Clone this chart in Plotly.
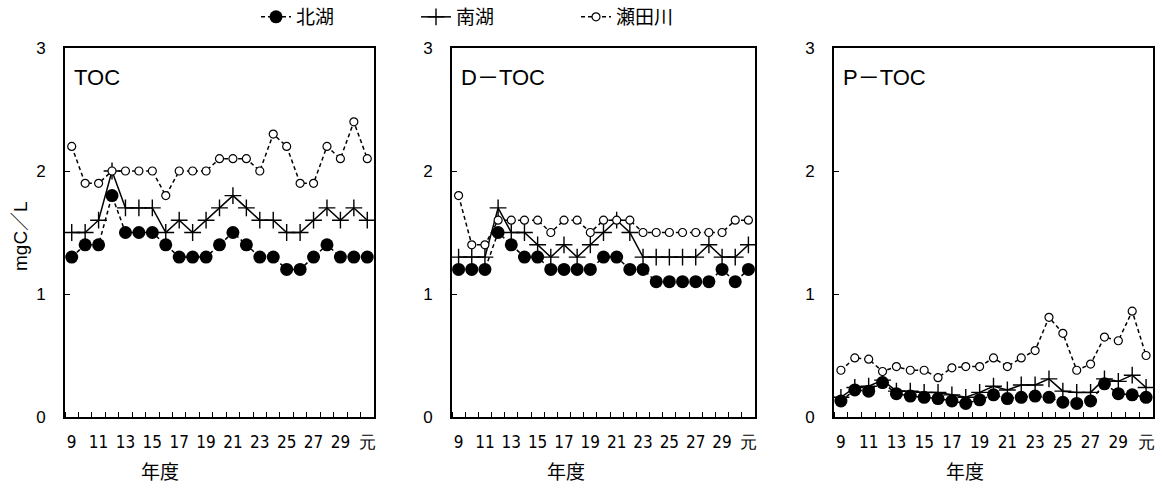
import plotly.graph_objects as go

# ---- data ----
years = ["9", "10", "11", "12", "13", "14", "15", "16", "17", "18", "19", "20",
         "21", "22", "23", "24", "25", "26", "27", "28", "29", "30", "元"]

toc_north = [1.3, 1.4, 1.4, 1.8, 1.5, 1.5, 1.5, 1.4, 1.3, 1.3, 1.3, 1.4, 1.5, 1.4, 1.3, 1.3, 1.2, 1.2, 1.3, 1.4, 1.3, 1.3, 1.3]
toc_south = [1.5, 1.5, 1.6, 2.0, 1.7, 1.7, 1.7, 1.5, 1.6, 1.5, 1.6, 1.7, 1.8, 1.7, 1.6, 1.6, 1.5, 1.5, 1.6, 1.7, 1.6, 1.7, 1.6]
toc_seta = [2.2, 1.9, 1.9, 2.0, 2.0, 2.0, 2.0, 1.8, 2.0, 2.0, 2.0, 2.1, 2.1, 2.1, 2.0, 2.3, 2.2, 1.9, 1.9, 2.2, 2.1, 2.4, 2.1]

dtoc_north = [1.2, 1.2, 1.2, 1.5, 1.4, 1.3, 1.3, 1.2, 1.2, 1.2, 1.2, 1.3, 1.3, 1.2, 1.2, 1.1, 1.1, 1.1, 1.1, 1.1, 1.2, 1.1, 1.2]
dtoc_south = [1.3, 1.3, 1.3, 1.7, 1.5, 1.5, 1.4, 1.3, 1.4, 1.3, 1.4, 1.5, 1.6, 1.5, 1.3, 1.3, 1.3, 1.3, 1.3, 1.4, 1.3, 1.3, 1.4]
dtoc_seta = [1.8, 1.4, 1.4, 1.6, 1.6, 1.6, 1.6, 1.5, 1.6, 1.6, 1.5, 1.6, 1.6, 1.6, 1.5, 1.5, 1.5, 1.5, 1.5, 1.5, 1.5, 1.6, 1.6]

ptoc_north = [0.13, 0.22, 0.21, 0.28, 0.19, 0.17, 0.16, 0.15, 0.13, 0.11, 0.14, 0.18, 0.15, 0.16, 0.17, 0.16, 0.12, 0.11, 0.13, 0.27, 0.19, 0.18, 0.16]
ptoc_south = [0.16, 0.24, 0.25, 0.30, 0.21, 0.21, 0.20, 0.20, 0.18, 0.16, 0.20, 0.25, 0.22, 0.26, 0.26, 0.31, 0.21, 0.20, 0.20, 0.31, 0.29, 0.34, 0.24]
ptoc_seta = [0.38, 0.48, 0.47, 0.37, 0.41, 0.38, 0.38, 0.32, 0.40, 0.41, 0.41, 0.48, 0.41, 0.48, 0.54, 0.81, 0.68, 0.38, 0.43, 0.65, 0.62, 0.86, 0.50]

series_names = ["北湖", "南湖", "瀬田川"]
panel_titles = ["TOC", "D－TOC", "P－TOC"]
panels = [
    (toc_north, toc_south, toc_seta),
    (dtoc_north, dtoc_south, dtoc_seta),
    (ptoc_north, ptoc_south, ptoc_seta),
]
y_ticks = [0, 1, 2, 3]

# ---- layout geometry (pixels) ----
W, H = 1162, 489
panel_px = [(65, 374), (452, 755), (834, 1153)]
y_top_px, y_bot_px = 48, 417

FONT = "Liberation Sans, Arial, Noto Sans CJK JP, sans-serif"
CJK = "Noto Sans CJK JP, sans-serif"
NUM = "Liberation Sans Narrow, DejaVu Sans Condensed, Liberation Sans, sans-serif"

xidx = list(range(len(years)))
label_idx = [i for i in xidx if i % 2 == 0]

styles = [
    dict(mode="lines+markers", line=dict(color="black", width=1.5, dash="4px,3px"),
         marker=dict(symbol="circle", size=13, color="black")),
    dict(mode="lines+markers", line=dict(color="black", width=1.5),
         marker=dict(symbol="cross-thin-open", size=12, color="black", line=dict(color="black", width=1.4))),
    dict(mode="lines+markers", line=dict(color="black", width=1.5, dash="4px,3px"),
         marker=dict(symbol="circle", size=8, color="white", line=dict(color="black", width=1.2))),
]

fig = go.Figure()
for p, data in enumerate(panels):
    xa = "x" if p == 0 else f"x{p+1}"
    ya = "y" if p == 0 else f"y{p+1}"
    for s, vals in enumerate(data):
        fig.add_trace(go.Scatter(
            x=xidx, y=vals, name=series_names[s], xaxis=xa, yaxis=ya,
            showlegend=(p == 0), cliponaxis=False, **styles[s]))

layout = dict(
    width=W, height=H, margin=dict(l=0, r=0, t=0, b=0, autoexpand=False),
    paper_bgcolor="white", plot_bgcolor="white",
    font=dict(family=FONT, size=16, color="black"),
    showlegend=True,
    legend=dict(orientation="h", x=256 / W, xanchor="left", y=1 - 17 / H, yanchor="middle",
                font=dict(family=CJK, size=19), entrywidth=115, entrywidthmode="pixels",
                bgcolor="rgba(0,0,0,0)"),
)

ydom = [1 - y_bot_px / H, 1 - y_top_px / H]
annotations = []
for p, (x0, x1) in enumerate(panel_px):
    sfx = "" if p == 0 else str(p + 1)
    layout["xaxis" + sfx] = dict(
        domain=[x0 / W, x1 / W], range=[-0.5, len(years) - 0.5], anchor="y" + sfx,
        tickmode="array", tickvals=label_idx, ticktext=[years[i] for i in label_idx],
        ticks="", ticklabelstandoff=9, automargin=False,
        tickfont=dict(family=NUM, size=17),
        minor=dict(tickmode="linear", tick0=0.5, dtick=1, ticks="inside", ticklen=5,
                   tickwidth=1.3, tickcolor="black", showgrid=False),
        showline=True, linecolor="black", linewidth=1.8, mirror=True,
        showgrid=False, zeroline=False, fixedrange=True,
    )
    layout["yaxis" + sfx] = dict(
        domain=ydom, range=[0, 3], anchor="x" + sfx,
        tickmode="array", tickvals=y_ticks, ticktext=[str(v) for v in y_ticks],
        ticks="inside", ticklen=5, tickwidth=1.3, tickcolor="black",
        ticklabelstandoff=14, tickfont=dict(family=FONT, size=17), automargin=False,
        showline=True, linecolor="black", linewidth=1.8, mirror=True,
        showgrid=False, zeroline=False, fixedrange=True,
    )
    # panel label
    annotations.append(dict(
        x=(x0 + 7) / W, y=1 - 77 / H, xref="paper", yref="paper",
        text=panel_titles[p], showarrow=False, xanchor="left", yanchor="middle",
        font=dict(family=FONT, size=22)))

# x-axis titles
for cx in (160, 566, 965):
    annotations.append(dict(
        x=cx / W, y=1 - 470 / H, xref="paper", yref="paper", text="年度",
        showarrow=False, xanchor="center", yanchor="middle",
        font=dict(family=CJK, size=19)))

# y-axis title
annotations.append(dict(
    x=20 / W, y=1 - 236 / H, xref="paper", yref="paper", text="mgC／L",
    showarrow=False, textangle=-90, xanchor="center", yanchor="middle",
    font=dict(family=FONT, size=19)))

layout["annotations"] = annotations
fig.update_layout(**layout)
fig.write_html(
    "out.html",
    config={"displayModeBar": False},
    post_script="document.body.style.margin='0px';document.body.style.overflow='hidden';",
)
